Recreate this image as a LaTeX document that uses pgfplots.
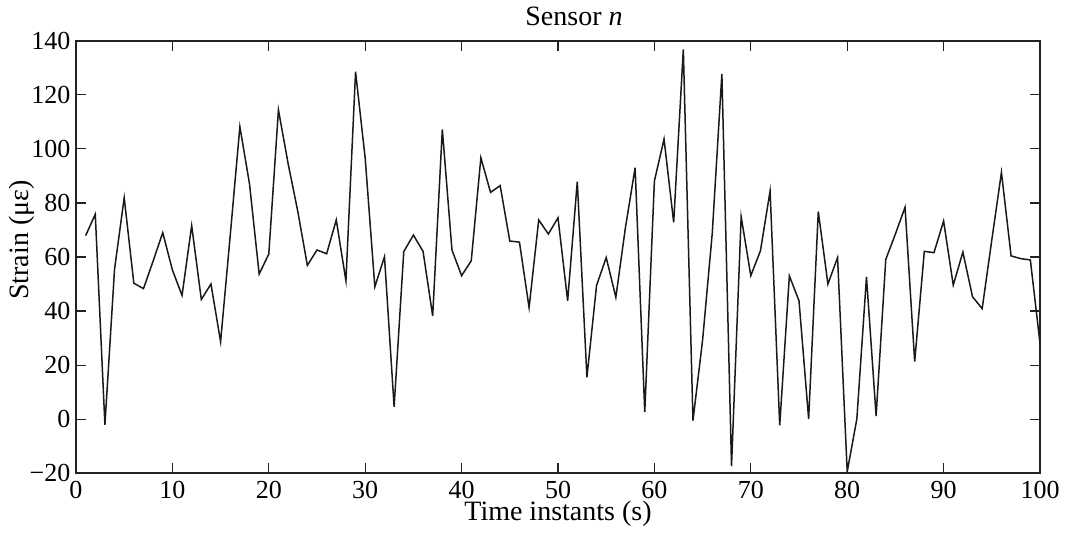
\documentclass[border=0pt]{standalone}
\usepackage{fontspec}
\setmainfont{Liberation Serif}
\usepackage{pgfplots}
\pgfplotsset{compat=1.18}
\definecolor{axgray}{HTML}{222222}
\pgfplotstableread{
x y
1 67.9
2 75.8
3 -2.1
4 55.5
5 81.9
6 50.3
7 48.3
8 58.5
9 69
10 55.2
11 45.8
12 71.6
13 44.3
14 50
15 28.7
16 68
17 108.2
18 87
19 53.7
20 61.1
21 114.4
22 94.6
23 77
24 56.9
25 62.6
26 61.2
27 73.7
28 51.2
29 128.5
30 96.5
31 49
32 60.1
33 4.6
34 62
35 68.1
36 62.1
37 38.2
38 107.2
39 62.6
40 53.1
41 58.6
42 96.7
43 83.9
44 86.4
45 65.9
46 65.5
47 41.3
48 73.7
49 68.5
50 74.5
51 43.8
52 87.9
53 15.5
54 49.5
55 59.8
56 45.1
57 71
58 93
59 2.6
60 88.1
61 103.6
62 72.8
63 136.8
64 -0.5
65 29.3
66 68.7
67 127.7
68 -17.3
69 74.9
70 53.1
71 62.3
72 84.4
73 -2.3
74 53
75 43.8
76 0.1
77 76.8
78 50
79 59.8
80 -19.4
81 0.1
82 52.6
83 1.2
84 59.1
85 68.5
86 78.4
87 21.3
88 62.1
89 61.6
90 73.3
91 49.6
92 61.8
93 45.3
94 40.9
95 66.3
96 91.3
97 60.4
98 59.4
99 58.9
100 28
}\datatable
\pgfplotsset{
  every axis title/.style={at={(axis description cs:0.5166,1)}, anchor=base, yshift=7.35pt, inner sep=0pt, font=\fontsize{14}{16}\selectfont},
  every axis x label/.style={at={(axis description cs:0.5,0)}, anchor=base, yshift=-23.6pt, inner sep=0pt, font=\fontsize{14}{16}\selectfont},
  every axis y label/.style={at={(axis description cs:-0.049,0.539)}, anchor=base, rotate=90, inner sep=0pt, font=\fontsize{14}{16}\selectfont},
}
\begin{document}
\begin{tikzpicture}
\begin{axis}[
  scale only axis,
  width=482pt, height=216.3pt,
  xmin=0, xmax=100, ymin=-20, ymax=140,
  xtick={0,10,...,100},
  xticklabels={0,10,20,30,40,50,60,70,80,90,100},
  ytick={-20,0,20,...,140},
  yticklabels={−20,0,20,40,60,80,100,120,140},
  xtick pos=both, ytick pos=both,
  tick align=inside,
  major tick length=5pt,
  axis line style={color=axgray, line width=1pt},
  every tick/.style={color=axgray, line width=0.6pt},
  ticklabel style={font=\fontsize{13}{15}\selectfont, inner sep=0pt},
  xticklabel style={anchor=base, yshift=-12.85pt},
  yticklabel style={anchor=east, xshift=-2.65pt},
  title={Sensor \textit{n}},
  xlabel={Time instants (s)},
  ylabel={Strain (με)},
]
\addplot[color=black!90, line width=0.75pt, mark=none, line join=miter] table[x=x, y=y] {\datatable};
\end{axis}
\pgfresetboundingbox
\path ([shift={(-38pt,-30.35pt)}]current axis.south west) rectangle ([shift={(15pt,20.35pt)}]current axis.north east);
\end{tikzpicture}
\end{document}
